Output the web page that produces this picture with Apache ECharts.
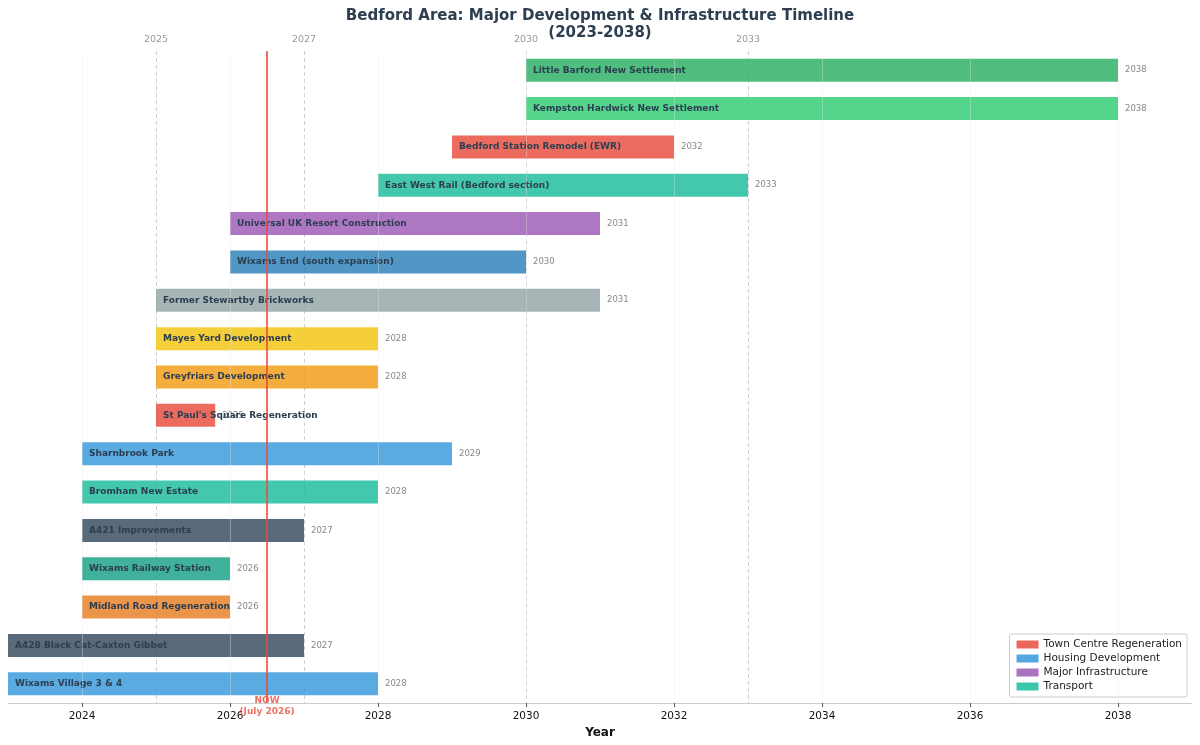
<!DOCTYPE html>
<html>
<head>
<meta charset="utf-8">
<title>Bedford Area Timeline</title>
<script src="https://cdn.jsdelivr.net/npm/echarts@6/dist/echarts.min.js"></script>
<style>
  html, body { margin: 0; padding: 0; background: #fff; }
  #main { width: 1200px; height: 745px; }
</style>
</head>
<body>
<div id="main"></div>
<script>
// projects, top to bottom
var projects = [
  'Little Barford New Settlement',
  'Kempston Hardwick New Settlement',
  'Bedford Station Remodel (EWR)',
  'East West Rail (Bedford section)',
  'Universal UK Resort Construction',
  'Wixams End (south expansion)',
  'Former Stewartby Brickworks',
  'Mayes Yard Development',
  'Greyfriars Development',
  "St Paul's Square Regeneration",
  'Sharnbrook Park',
  'Bromham New Estate',
  'A421 Improvements',
  'Wixams Railway Station',
  'Midland Road Regeneration',
  'A428 Black Cat-Caxton Gibbet',
  'Wixams Village 3 & 4'
];
var startYears = [2030, 2030, 2029, 2028, 2026, 2026, 2025, 2025, 2025, 2025, 2024, 2024, 2024, 2024, 2024, 2023, 2023];
var endYears = [2038, 2038, 2032, 2033, 2031, 2030, 2031, 2028, 2028, 2025.8, 2029, 2028, 2027, 2026, 2026, 2027, 2028];
var barColors = ['#27ae60', '#2ecc71', '#e74c3c', '#1abc9c', '#9b59b6', '#2980b9', '#95a5a6', '#f1c40f',
  '#f39c12', '#e74c3c', '#3498db', '#1abc9c', '#34495e', '#16a085', '#e67e22', '#34495e', '#3498db'];

var legendNames = ['Town Centre Regeneration', 'Housing Development', 'Major Infrastructure', 'Transport'];
var legendColors = ['#e74c3c', '#3498db', '#9b59b6', '#1abc9c'];

var milestoneYears = [2025, 2027, 2030, 2033];
var tickYears = [2024, 2026, 2028, 2030, 2032, 2034, 2036, 2038];
var nowYear = 2026.5;

var chartDom = document.getElementById('main');
var myChart = echarts.init(chartDom);

var barData = projects.map(function (name, i) {
  return [i, startYears[i], endYears[i], name, barColors[i]];
});

function renderBar(params, api) {
  var idx = api.value(0);
  var p0 = api.coord([api.value(1), idx]);
  var p1 = api.coord([api.value(2), idx]);
  var h = api.size([0, 1])[1] * 0.6;
  var d = barData[params.dataIndex];
  return {
    type: 'group',
    children: [
      {
        type: 'rect',
        shape: { x: p0[0], y: p0[1] - h / 2, width: p1[0] - p0[0], height: h },
        style: { fill: d[4], opacity: 0.82 }
      },
      {
        type: 'text',
        z2: 20,
        style: {
          x: p1[0] + 7, y: p1[1],
          text: String(Math.floor(d[2])),
          fill: '#888', fontSize: 8.5,
          fontFamily: 'DejaVu Sans',
          verticalAlign: 'middle'
        }
      },
      {
        type: 'text',
        z2: 30,
        style: {
          x: p0[0] + 7, y: p0[1],
          text: d[3],
          fill: '#2c3e50', fontSize: 9, fontWeight: 'bold',
          fontFamily: 'DejaVu Sans',
          verticalAlign: 'middle'
        }
      }
    ]
  };
}

var option = {
  backgroundColor: '#fff',
  animation: false,
  textStyle: { fontFamily: 'DejaVu Sans' },
  title: {
    text: 'Bedford Area: Major Development & Infrastructure Timeline\n(2023-2038)',
    left: 'center',
    top: 3,
    textStyle: { fontSize: 15, fontWeight: 'bold', color: '#2c3e50', lineHeight: 17 }
  },
  legend: {
    data: legendNames,
    orient: 'vertical',
    right: 13,
    bottom: 48,
    icon: 'rect',
    itemWidth: 22,
    itemHeight: 8,
    itemGap: 3,
    padding: [5, 5, 5, 7],
    borderColor: '#ccc',
    borderWidth: 1,
    borderRadius: 2,
    backgroundColor: 'rgba(255,255,255,0.85)',
    selectedMode: false,
    textStyle: { fontSize: 10.5, color: '#222' }
  },
  grid: { left: 8, right: 8, top: 51, bottom: 42 },
  xAxis: {
    type: 'value',
    min: 2023,
    max: 2039,
    name: 'Year',
    nameLocation: 'middle',
    nameGap: 22,
    nameTextStyle: { fontSize: 12, fontWeight: 'bold', color: '#111' },
    axisLine: { show: true, lineStyle: { color: '#ccc' } },
    axisTick: { show: true, customValues: tickYears, length: 4, lineStyle: { color: '#555' } },
    axisLabel: {
      customValues: tickYears, fontSize: 10.5, color: '#111', margin: 8,
      formatter: function (v) { return String(v); }
    },
    splitLine: { show: false }
  },
  yAxis: {
    type: 'category',
    data: projects,
    inverse: true,
    show: false
  },
  series: [
    {
      type: 'line',
      name: 'milestones',
      data: [],
      z: 1,
      markLine: {
        silent: true,
        symbol: 'none',
        z: 1,
        data: milestoneYears.map(function (y) {
          return {
            xAxis: y,
            lineStyle: { color: '#d0d0d0', type: [4, 3], width: 1 },
            label: { show: true, position: 'start', formatter: String(y), color: '#999', fontSize: 9.5, distance: 6 }
          };
        })
      }
    },
    {
      type: 'custom',
      name: 'projects',
      renderItem: renderBar,
      encode: { x: [1, 2], y: 0 },
      data: barData,
      z: 2
    },
    {
      type: 'line',
      name: 'grid',
      data: [],
      z: 5,
      markLine: {
        silent: true,
        symbol: 'none',
        label: { show: false },
        lineStyle: { color: 'rgba(235,235,235,0.35)', type: 'solid', width: 1 },
        data: tickYears.map(function (y) { return { xAxis: y }; })
      }
    },
    {
      type: 'line',
      name: 'now',
      data: [],
      z: 6,
      markLine: {
        silent: true,
        symbol: 'none',
        data: [{
          xAxis: nowYear,
          lineStyle: { color: '#e74c3c', type: 'solid', width: 2, opacity: 0.8 },
          label: {
            show: true, position: 'end', formatter: 'NOW\n(July 2026)',
            color: '#e74c3c', fontSize: 9, fontWeight: 'bold', lineHeight: 11, distance: -8
          }
        }]
      }
    }
  ].concat(legendNames.map(function (n, i) {
    return { type: 'bar', name: n, data: [], itemStyle: { color: legendColors[i], opacity: 0.85 } };
  }))
};

option && myChart.setOption(option);
</script>
</body>
</html>
